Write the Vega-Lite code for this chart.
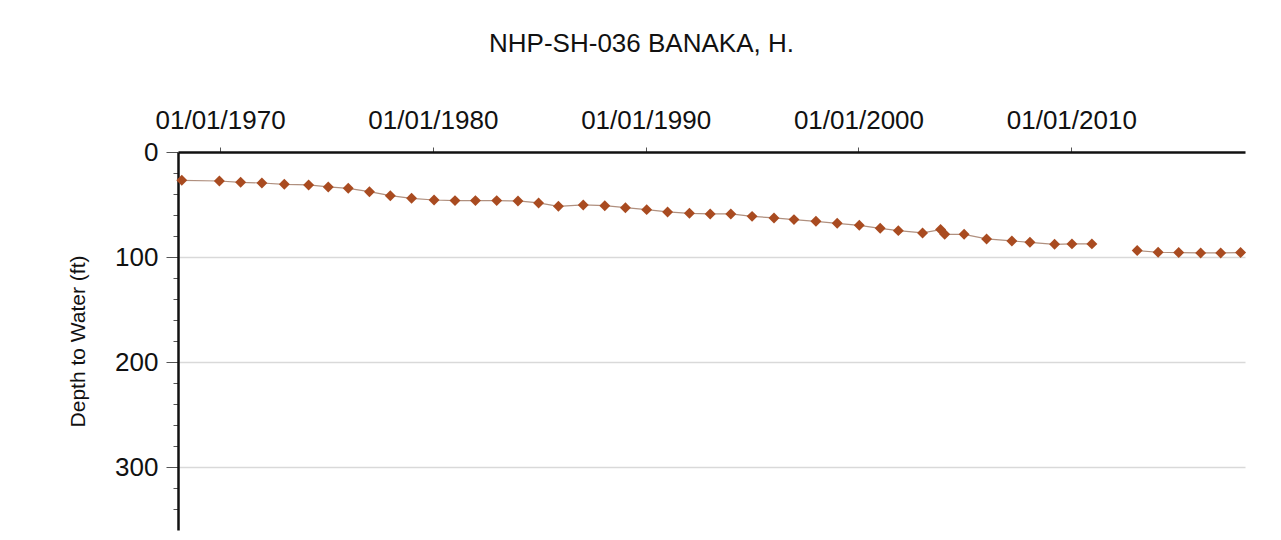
{
  "$schema": "https://vega.github.io/schema/vega-lite/v6.json",
  "autosize": "none",
  "width": 1067,
  "height": 378,
  "padding": {"left": 178, "top": 152, "right": 36, "bottom": 10},
  "background": "white",
  "config": {
    "font": "Liberation Sans",
    "view": {"stroke": null}
  },
  "title": {
    "text": "NHP-SH-036 BANAKA, H.",
    "fontSize": 26,
    "fontWeight": "normal",
    "color": "#111111",
    "anchor": "middle",
    "dx": -70,
    "offset": 50
  },
  "data": {
    "values": [
      {"date": "1968-03-15", "depth": 27.0, "seg": 1},
      {"date": "1969-12-20", "depth": 27.6, "seg": 1},
      {"date": "1970-12-20", "depth": 28.9, "seg": 1},
      {"date": "1971-12-20", "depth": 29.5, "seg": 1},
      {"date": "1973-01-08", "depth": 30.8, "seg": 1},
      {"date": "1974-03-01", "depth": 31.4, "seg": 1},
      {"date": "1975-02-01", "depth": 33.3, "seg": 1},
      {"date": "1976-01-10", "depth": 34.6, "seg": 1},
      {"date": "1977-01-08", "depth": 37.8, "seg": 1},
      {"date": "1978-01-01", "depth": 41.6, "seg": 1},
      {"date": "1979-01-01", "depth": 44.1, "seg": 1},
      {"date": "1980-01-22", "depth": 45.7, "seg": 1},
      {"date": "1981-01-15", "depth": 46.3, "seg": 1},
      {"date": "1982-01-01", "depth": 46.3, "seg": 1},
      {"date": "1983-01-01", "depth": 46.3, "seg": 1},
      {"date": "1984-01-01", "depth": 46.6, "seg": 1},
      {"date": "1984-12-20", "depth": 48.5, "seg": 1},
      {"date": "1985-11-25", "depth": 51.7, "seg": 1},
      {"date": "1987-01-25", "depth": 50.4, "seg": 1},
      {"date": "1988-01-30", "depth": 51.1, "seg": 1},
      {"date": "1989-01-18", "depth": 53.0, "seg": 1},
      {"date": "1990-01-18", "depth": 54.9, "seg": 1},
      {"date": "1991-01-12", "depth": 57.1, "seg": 1},
      {"date": "1992-01-22", "depth": 58.4, "seg": 1},
      {"date": "1993-01-12", "depth": 59.0, "seg": 1},
      {"date": "1994-01-01", "depth": 59.0, "seg": 1},
      {"date": "1995-01-01", "depth": 61.3, "seg": 1},
      {"date": "1996-01-12", "depth": 62.8, "seg": 1},
      {"date": "1996-12-20", "depth": 64.4, "seg": 1},
      {"date": "1998-01-01", "depth": 66.0, "seg": 1},
      {"date": "1999-01-01", "depth": 67.9, "seg": 1},
      {"date": "2000-01-15", "depth": 69.8, "seg": 1},
      {"date": "2001-01-08", "depth": 72.7, "seg": 1},
      {"date": "2001-11-15", "depth": 74.9, "seg": 1},
      {"date": "2003-01-05", "depth": 77.1, "seg": 1},
      {"date": "2003-11-10", "depth": 73.9, "seg": 1},
      {"date": "2004-01-20", "depth": 78.4, "seg": 1},
      {"date": "2004-12-18", "depth": 78.4, "seg": 1},
      {"date": "2006-01-08", "depth": 82.8, "seg": 1},
      {"date": "2007-03-18", "depth": 84.7, "seg": 1},
      {"date": "2008-01-22", "depth": 86.0, "seg": 1},
      {"date": "2009-03-20", "depth": 87.9, "seg": 1},
      {"date": "2010-01-12", "depth": 87.5, "seg": 1},
      {"date": "2010-12-20", "depth": 87.5, "seg": 1},
      {"date": "2013-02-05", "depth": 93.9, "seg": 2},
      {"date": "2014-01-30", "depth": 95.5, "seg": 2},
      {"date": "2015-01-18", "depth": 95.8, "seg": 2},
      {"date": "2016-01-30", "depth": 96.1, "seg": 2},
      {"date": "2017-01-08", "depth": 96.1, "seg": 2},
      {"date": "2017-12-15", "depth": 95.8, "seg": 2}
    ]
  },
  "encoding": {
    "x": {
      "field": "date",
      "type": "temporal",
      "title": null,
      "scale": {
        "type": "utc",
        "domain": [
          {"year": 1968, "month": 1, "date": 10, "utc": true},
          {"year": 2018, "month": 3, "date": 1, "utc": true}
        ]
      },
      "axis": {
        "orient": "top",
        "values": [
          {"year": 1970, "month": 1, "date": 1, "utc": true},
          {"year": 1980, "month": 1, "date": 1, "utc": true},
          {"year": 1990, "month": 1, "date": 1, "utc": true},
          {"year": 2000, "month": 1, "date": 1, "utc": true},
          {"year": 2010, "month": 1, "date": 1, "utc": true}
        ],
        "labelExpr": "utcFormat(datum.value, '%m/%d/%Y')",
        "labelFontSize": 26,
        "labelColor": "#111111",
        "labelPadding": 14,
        "labelOverlap": false,
        "labelFlush": false,
        "tickSize": 5,
        "tickColor": "#555555",
        "tickWidth": 1,
        "domainColor": "#111111",
        "domainWidth": 2.5,
        "grid": false
      }
    },
    "y": {
      "field": "depth",
      "type": "quantitative",
      "title": "Depth to Water (ft)",
      "scale": {"domain": [0, 360], "reverse": true, "nice": false, "zero": false},
      "axis": {
        "orient": "left",
        "values": [0, 20, 40, 60, 80, 100, 120, 140, 160, 180, 200, 220, 240, 260, 280, 300, 320, 340],
        "labelExpr": "datum.value % 100 === 0 ? datum.value : ''",
        "labelFontSize": 26,
        "labelColor": "#111111",
        "labelPadding": 8,
        "labelOverlap": false,
        "labelFlush": false,
        "tickSize": {"condition": {"test": "datum.value % 100 === 0", "value": 12}, "value": 5},
        "tickColor": "#555555",
        "tickWidth": 1,
        "domainColor": "#111111",
        "domainWidth": 2.5,
        "grid": true,
        "gridColor": "#d9d9d9",
        "gridWidth": 1.5,
        "gridOpacity": {"condition": {"test": "datum.value % 100 === 0 && datum.value > 0", "value": 1}, "value": 0},
        "titleFontSize": 21,
        "titleFontWeight": "normal",
        "titleColor": "#111111",
        "titlePadding": 26
      }
    }
  },
  "layer": [
    {
      "mark": {"type": "line", "color": "#b0907f", "strokeWidth": 1.2},
      "encoding": {"detail": {"field": "seg", "type": "nominal"}}
    },
    {
      "mark": {"type": "point", "shape": "diamond", "filled": true, "size": 120, "color": "#a94b20", "opacity": 1},
      "encoding": {}
    }
  ]
}
